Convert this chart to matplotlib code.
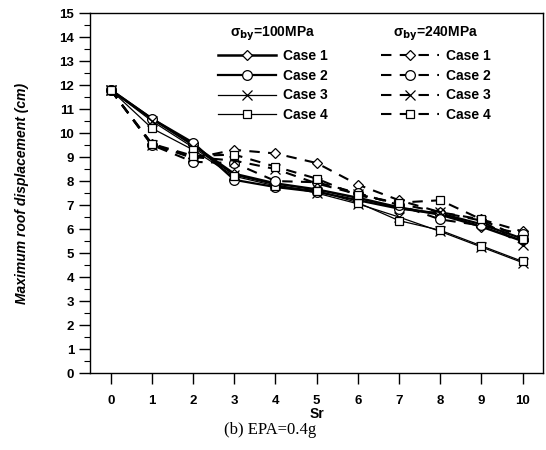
import matplotlib
matplotlib.use('Agg')
import matplotlib.pyplot as plt
from matplotlib.ticker import MultipleLocator

sr = [0, 1, 2, 3, 4, 5, 6, 7, 8, 9, 10]

# sigma_by = 100 MPa
s100_case1 = [11.8, 10.6, 9.5, 8.3, 7.9, 7.65, 7.3, 6.9, 6.6, 6.1, 5.5]
s100_case2 = [11.8, 10.6, 9.6, 8.05, 7.75, 7.55, 7.2, 6.85, 6.65, 6.2, 5.6]
s100_case3 = [11.8, 10.5, 9.4, 8.25, 7.85, 7.5, 7.05, 6.5, 5.9, 5.25, 4.6]
s100_case4 = [11.8, 10.2, 9.3, 8.2, 7.8, 7.6, 7.1, 6.35, 5.95, 5.3, 4.65]

# sigma_by = 240 MPa
s240_case1 = [11.8, 9.55, 8.95, 9.3, 9.15, 8.75, 7.85, 7.2, 6.7, 6.4, 5.9]
s240_case2 = [11.8, 9.5, 8.8, 8.75, 8.0, 7.95, 7.5, 7.0, 6.4, 6.15, 5.8]
s240_case3 = [11.8, 9.5, 9.0, 8.85, 8.5, 7.9, 7.45, 7.05, 6.7, 6.35, 5.35]
s240_case4 = [11.8, 9.55, 9.05, 9.1, 8.6, 8.1, 7.4, 7.1, 7.2, 6.4, 5.6]

case_labels = ['Case 1', 'Case 2', 'Case 3', 'Case 4']
markers = ['D', 'o', 'x', 's']
msizes = [5, 7, 7, 6]
solid_lw = [1.8, 1.6, 0.9, 0.9]

plt.rcParams['font.family'] = ['Liberation Sans', 'DejaVu Sans']
plt.rcParams['mathtext.default'] = 'bf'

fig = plt.figure(figsize=(5.46, 4.5), dpi=100)
ax = fig.add_axes([0.165, 0.171, 0.83, 0.8])

s100 = [s100_case1, s100_case2, s100_case3, s100_case4]
s240 = [s240_case1, s240_case2, s240_case3, s240_case4]

h100 = []
for vals, m, ms, lw, lab in zip(s100, markers, msizes, solid_lw, case_labels):
    ln, = ax.plot(sr, vals, color='black', lw=lw, marker=m, ms=ms,
                  mfc='white', mec='black', mew=0.9, label=lab)
    h100.append(ln)

h240 = []
for vals, m, ms, lab in zip(s240, markers, msizes, case_labels):
    ln, = ax.plot(sr, vals, color='black', lw=1.5, ls=(0, (5, 4)), marker=m,
                  ms=ms, mfc='white', mec='black', mew=0.9, label=lab)
    h240.append(ln)

ax.set_xlim(-0.5, 10.5)
ax.set_ylim(0, 15)
ax.set_xticks(sr)
ax.yaxis.set_major_locator(MultipleLocator(1))
ax.yaxis.set_minor_locator(MultipleLocator(0.5))
ax.tick_params(axis='both', which='major', direction='out', length=8, width=1,
               labelsize=9.5)
ax.tick_params(axis='y', which='minor', direction='out', length=4, width=0.8)
for t in ax.get_xticklabels() + ax.get_yticklabels():
    t.set_fontweight('bold')
ax.tick_params(axis='x', pad=8)

for sp in ax.spines.values():
    sp.set_linewidth(1.0)

ax.set_xlabel('Sr', fontsize=10, fontweight='bold', labelpad=0)
ax.set_ylabel('Maximum roof displacement (cm)', fontsize=10,
              fontweight='bold', fontstyle='italic', labelpad=22)

leg_kw = dict(loc='upper left', frameon=False, handlelength=4.2,
              labelspacing=0.42, handletextpad=0.5, borderpad=0.2,
              prop={'weight': 'bold', 'size': 10})

leg1 = ax.legend(handles=h100, title='σ$_{by}$=100MPa',
                 bbox_to_anchor=(0.26, 0.995), **leg_kw)
leg1.get_title().set_fontweight('bold')
leg1.get_title().set_fontsize(10)
ax.add_artist(leg1)

leg2 = ax.legend(handles=h240, title='σ$_{by}$=240MPa',
                 bbox_to_anchor=(0.62, 0.995), **leg_kw)
leg2.get_title().set_fontweight('bold')
leg2.get_title().set_fontsize(10)

fig.text(0.495, 0.044, '(b) EPA=0.4g', ha='center', va='center',
         fontsize=12, family=['Liberation Serif', 'DejaVu Serif'])

fig.savefig('out.png', dpi=100)
